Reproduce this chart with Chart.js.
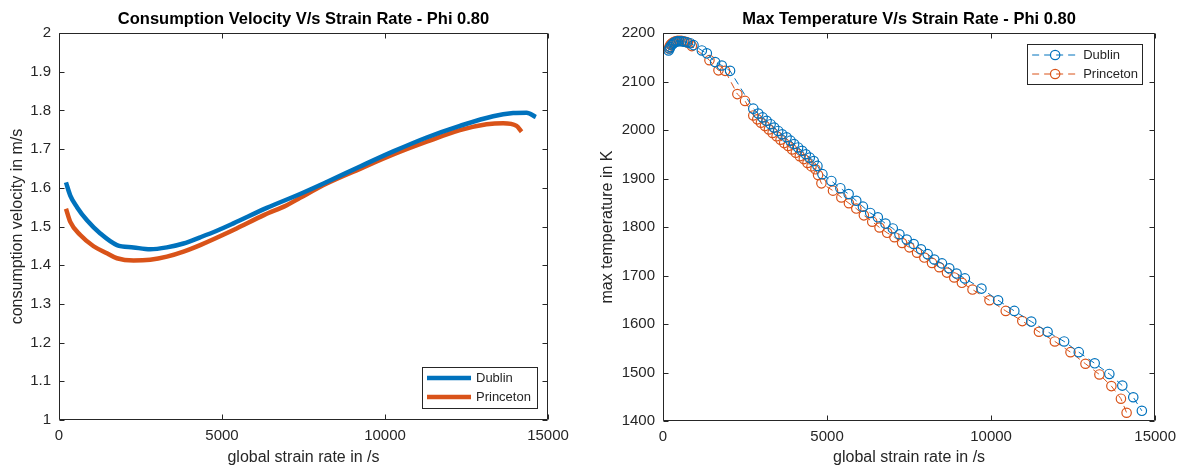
<!DOCTYPE html>
<html>
<head>
<meta charset="utf-8">
<script src="https://cdn.jsdelivr.net/npm/chart.js@4.4.1/dist/chart.umd.min.js"></script>
<style>
  body { margin: 0; background: #fff; width: 1183px; height: 470px; overflow: hidden; position: relative; }
  canvas { position: absolute; top: 0; }
  #velChart { left: 0; }
  #tempChart { left: 592px; }
</style>
</head>
<body>
<canvas id="velChart" width="592" height="470"></canvas>
<canvas id="tempChart" width="591" height="470"></canvas>
<script>
// --- data ---
const seriesNames = ['Dublin', 'Princeton'];
const rateTicks = [0, 5000, 10000, 15000];
const velTicks = [1, 1.1, 1.2, 1.3, 1.4, 1.5, 1.6, 1.7, 1.8, 1.9, 2];
const tempTicks = [1400, 1500, 1600, 1700, 1800, 1900, 2000, 2100, 2200];

// consumption velocity (m/s) vs global strain rate (1/s)
const velRateDublin = [214, 346, 552, 858, 1266, 1777, 2286, 2798, 3310, 3819, 4330, 4842, 5351, 6374, 7395, 8213, 9234, 10254, 11278, 12298, 13319, 13932, 14342, 14628];
const velDublin = [1.614, 1.580, 1.550, 1.516, 1.482, 1.452, 1.446, 1.441, 1.446, 1.456, 1.472, 1.489, 1.508, 1.548, 1.584, 1.615, 1.655, 1.694, 1.730, 1.760, 1.785, 1.793, 1.794, 1.783];
const velRatePrinceton = [214, 346, 653, 1061, 1471, 1777, 2286, 2798, 3310, 3819, 4330, 5351, 6300, 6987, 7395, 8213, 9234, 10254, 11278, 12298, 13117, 13625, 14036, 14189];
const velPrinceton = [1.546, 1.512, 1.478, 1.449, 1.431, 1.418, 1.412, 1.414, 1.422, 1.435, 1.452, 1.491, 1.530, 1.555, 1.574, 1.611, 1.649, 1.686, 1.719, 1.749, 1.764, 1.767, 1.760, 1.745];

// max temperature (K) vs global strain rate (1/s)
const tempRateDublin = [171, 200, 222, 260, 300, 340, 390, 440, 500, 577, 650, 730, 829, 930, 1184, 1336, 1588, 1792, 2044,
  2752, 2904, 3037, 3158, 3280, 3389, 3511, 3632, 3766, 3887, 3996, 4118, 4239, 4352, 4473, 4595, 4707,
  4859, 5132, 5405, 5658, 5891, 6093, 6316, 6548, 6781, 7004, 7206, 7428, 7641, 7864, 8066, 8269, 8503, 8725, 8947, 9201,
  9706, 10213, 10708, 11224, 11722, 12226, 12672, 13158, 13604, 13999, 14333, 14595];
const tempDublin = [2164, 2168, 2171, 2175, 2178, 2180, 2182, 2183, 2183, 2183, 2182, 2181, 2179, 2175, 2164, 2158, 2140, 2133, 2122,
  2044, 2034, 2026, 2019, 2012, 2005, 1998, 1991, 1985, 1978, 1971, 1964, 1957, 1950, 1943, 1936, 1926,
  1909, 1895, 1880, 1868, 1854, 1842, 1829, 1820, 1807, 1797, 1785, 1774, 1765, 1754, 1744, 1733, 1725, 1715, 1704, 1694,
  1673, 1649, 1627, 1605, 1584, 1564, 1542, 1519, 1497, 1473, 1449, 1421];
const tempRatePrinceton = [180, 200, 230, 260, 300, 340, 390, 440, 500, 560, 620, 690, 760, 880, 1416, 1690, 1892, 2266, 2500,
  2752, 2873, 2985, 3107, 3228, 3340, 3462, 3583, 3693, 3815, 3936, 4048, 4169, 4291, 4403, 4525, 4646, 4726,
  4828, 5181, 5436, 5667, 5891, 6122, 6377, 6599, 6833, 7054, 7288, 7510, 7744, 7965, 8199, 8421, 8655, 8876, 9110, 9433,
  9950, 10446, 10951, 11458, 11943, 12420, 12876, 13301, 13666, 13957, 14130];
const tempPrinceton = [2168, 2172, 2176, 2178, 2180, 2182, 2183, 2184, 2184, 2184, 2183, 2182, 2180, 2173, 2144, 2123, 2122, 2074, 2060,
  2030, 2022, 2015, 2008, 2001, 1994, 1987, 1980, 1973, 1967, 1960, 1953, 1946, 1940, 1932, 1925, 1919, 1907,
  1890, 1875, 1861, 1849, 1838, 1824, 1811, 1799, 1788, 1779, 1767, 1758, 1747, 1737, 1726, 1717, 1706, 1696, 1685, 1671,
  1649, 1627, 1606, 1584, 1564, 1542, 1518, 1496, 1472, 1446, 1417];

// --- styling ---
const fontFamily = "'Liberation Sans', Arial, Helvetica, sans-serif";
const axisColor = '#262626';
const blue = '#0072BD';
const orange = '#D95319';
const tickFont = { family: fontFamily, size: 15 };
const labelFont = { family: fontFamily, size: 16 };
const titleFont = { family: fontFamily, size: 16.5, weight: 'bold' };

const pairs = (xs, ys) => xs.map((x, i) => ({ x, y: ys[i] }));
const fmt = v => String(Math.round(v * 10) / 10);

// box + inward tick marks on all four sides, like MATLAB axes
const boxAxes = {
  id: 'boxAxes',
  afterDatasetsDraw(chart) {
    const { ctx, chartArea: a, scales: { x, y } } = chart;
    const L = Math.round(a.left) + 0.5, R = Math.round(a.right) - 0.5;
    const T = Math.round(a.top) + 0.5, B = Math.round(a.bottom) - 0.5;
    ctx.save();
    ctx.strokeStyle = axisColor;
    ctx.lineWidth = 1;
    ctx.beginPath();
    x.ticks.forEach(t => {
      const px = Math.round(x.getPixelForValue(t.value)) + 0.5;
      ctx.moveTo(px, B); ctx.lineTo(px, B - 5);
      ctx.moveTo(px, T); ctx.lineTo(px, T + 5);
    });
    y.ticks.forEach(t => {
      const py = Math.round(y.getPixelForValue(t.value)) + 0.5;
      ctx.moveTo(L, py); ctx.lineTo(L + 5, py);
      ctx.moveTo(R, py); ctx.lineTo(R - 5, py);
    });
    ctx.rect(L, T, R - L, B - T);
    ctx.stroke();
    ctx.restore();
  }
};

// legend box drawn inside the plot area
const boxLegend = {
  id: 'boxLegend',
  afterDraw(chart, args, opts) {
    const { ctx, chartArea: a } = chart;
    const w = opts.width, h = opts.height;
    const left = a.right - opts.dx - w;
    const top = opts.corner === 'br' ? a.bottom - opts.dy - h : a.top + opts.dy;
    ctx.save();
    ctx.fillStyle = '#fff';
    ctx.fillRect(left, top, w, h);
    ctx.strokeStyle = axisColor;
    ctx.lineWidth = 1;
    ctx.strokeRect(Math.round(left) + 0.5, Math.round(top) + 0.5, Math.round(w), Math.round(h));
    ctx.font = '13px ' + fontFamily;
    ctx.textBaseline = 'middle';
    chart.data.datasets.forEach((ds, i) => {
      const cy = top + opts.rowTop + i * opts.rowGap;
      const x0 = left + 5, x1 = x0 + opts.sample;
      ctx.strokeStyle = ds.borderColor;
      ctx.lineWidth = ds.borderWidth;
      ctx.setLineDash(ds.borderDash || []);
      ctx.beginPath();
      ctx.moveTo(x0, cy); ctx.lineTo(x1, cy);
      ctx.stroke();
      ctx.setLineDash([]);
      if (ds.pointRadius > 0) {
        ctx.lineWidth = ds.pointBorderWidth;
        ctx.beginPath();
        ctx.arc((x0 + x1) / 2, cy, ds.pointRadius, 0, Math.PI * 2);
        ctx.stroke();
      }
      ctx.fillStyle = axisColor;
      ctx.fillText(ds.label, x1 + 5, cy + 0.5);
    });
    ctx.restore();
  }
};

function scales(xTitle, yTitle, yTicks, yWidth, xHeight, yTitlePad) {
  return {
    x: {
      type: 'linear', min: rateTicks[0], max: rateTicks[rateTicks.length - 1],
      afterBuildTicks: s => { s.ticks = rateTicks.map(v => ({ value: v })); },
      afterFit: s => { s.height = xHeight; },
      grid: { display: false, drawTicks: false },
      border: { display: false },
      ticks: { padding: 7, color: axisColor, font: tickFont, callback: fmt, maxRotation: 0, autoSkip: false },
      title: { display: true, text: xTitle, color: axisColor, font: labelFont, padding: { top: 0, bottom: 2.4 } }
    },
    y: {
      type: 'linear', min: yTicks[0], max: yTicks[yTicks.length - 1],
      afterBuildTicks: s => { s.ticks = yTicks.map(v => ({ value: v })); },
      afterFit: s => { s.width = yWidth; },
      grid: { display: false, drawTicks: false },
      border: { display: false },
      ticks: { padding: 8, color: axisColor, font: tickFont, callback: fmt, autoSkip: false },
      title: { display: true, text: yTitle, color: axisColor, font: labelFont, padding: { top: yTitlePad, bottom: 0 } }
    }
  };
}

function titleOpts(text) {
  return { display: true, text, color: '#000', font: titleFont, padding: { top: 9.7, bottom: 3.5 }, fullSize: false };
}

new Chart(document.getElementById('velChart'), {
  type: 'line',
  data: {
    datasets: [
      { label: seriesNames[0], data: pairs(velRateDublin, velDublin), borderColor: blue, borderWidth: 4.5,
        pointRadius: 0, cubicInterpolationMode: 'monotone', fill: false },
      { label: seriesNames[1], data: pairs(velRatePrinceton, velPrinceton), borderColor: orange, borderWidth: 4.5,
        pointRadius: 0, cubicInterpolationMode: 'monotone', fill: false }
    ]
  },
  options: {
    responsive: false, animation: false,
    layout: { padding: { left: 0, right: 44, top: 0, bottom: 0 } },
    scales: scales('global strain rate in /s', 'consumption velocity in m/s', velTicks, 59, 50, 8.4),
    plugins: {
      legend: { display: false }, tooltip: { enabled: false },
      title: titleOpts('Consumption Velocity V/s Strain Rate - Phi 0.80'),
      boxLegend: { corner: 'br', dx: 11, dy: 12, width: 115, height: 41, rowTop: 11, rowGap: 19, sample: 44 }
    }
  },
  plugins: [boxAxes, boxLegend]
});

new Chart(document.getElementById('tempChart'), {
  type: 'line',
  data: {
    datasets: [
      { label: seriesNames[0], data: pairs(tempRateDublin, tempDublin), borderColor: blue, borderWidth: 1,
        borderDash: [7, 5], pointRadius: 4.7, pointBorderWidth: 1.2, pointBorderColor: blue,
        pointBackgroundColor: 'rgba(0,0,0,0)', tension: 0, fill: false },
      { label: seriesNames[1], data: pairs(tempRatePrinceton, tempPrinceton), borderColor: orange, borderWidth: 1,
        borderDash: [7, 5], pointRadius: 4.7, pointBorderWidth: 1.2, pointBorderColor: orange,
        pointBackgroundColor: 'rgba(0,0,0,0)', tension: 0, fill: false }
    ]
  },
  options: {
    responsive: false, animation: false,
    layout: { padding: { left: 0, right: 27, top: 0, bottom: 0 } },
    scales: scales('global strain rate in /s', 'max temperature in K', tempTicks, 71, 49, 6.4),
    plugins: {
      legend: { display: false }, tooltip: { enabled: false },
      title: titleOpts('Max Temperature V/s Strain Rate - Phi 0.80'),
      boxLegend: { corner: 'tr', dx: 13, dy: 11, width: 115, height: 40, rowTop: 11, rowGap: 19, sample: 46 }
    }
  },
  plugins: [boxAxes, boxLegend]
});
</script>
</body>
</html>
